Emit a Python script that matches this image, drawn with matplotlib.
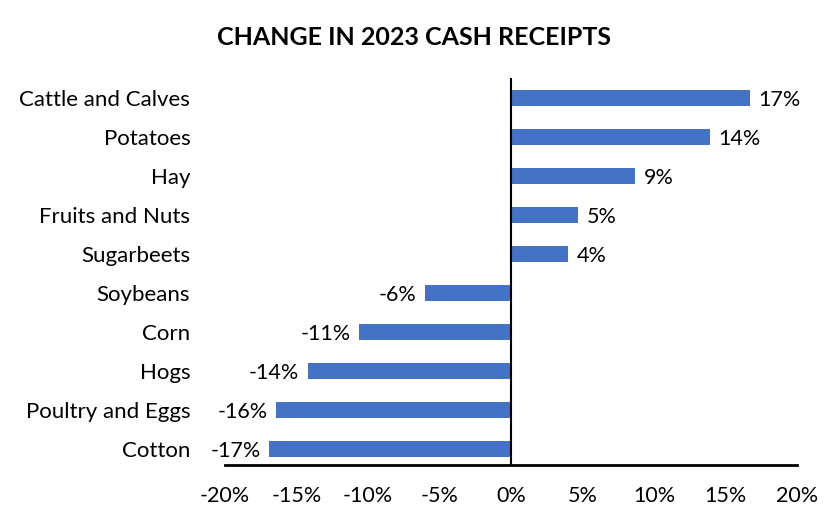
import numpy as np
import matplotlib.pyplot as plt

# Данные
kategooriad = ["Cattle and Calves", "Potatoes", "Hay", "Fruits and Nuts", "Sugarbeets",
               "Soybeans", "Corn", "Hogs", "Poultry and Eggs", "Cotton"]
muutus = [16.7, 13.9, 8.7, 4.7, 4.0, -6.0, -10.6, -14.2, -16.4, -16.9]
x_ticks = [-20, -15, -10, -5, 0, 5, 10, 15, 20]

plt.rcParams['font.family'] = ['Lato', 'DejaVu Sans']

fig = plt.figure(figsize=(8.29, 5.29), dpi=100)
ax = fig.add_axes([0.2714, 0.121, 0.69, 0.7316])

y = np.arange(len(kategooriad))
ax.barh(y, muutus, height=0.41, color='#4472C4')

for yi, v in zip(y, muutus):
    if v >= 0:
        ax.text(v + 0.6, yi + 0.05, f"{round(v):.0f}%", va='center', ha='left', fontsize=15.5)
    else:
        ax.text(v - 0.6, yi + 0.05, f"{round(v):.0f}%", va='center', ha='right', fontsize=15.5)

ax.set_xlim(-20, 20)
ax.set_ylim(9.41, -0.51)
ax.set_xticks(x_ticks)
ax.set_xticklabels([f"{t}%" for t in x_ticks], fontsize=15.5)
ax.set_yticks(y)
ax.set_yticklabels(kategooriad, fontsize=16)
ax.tick_params(axis='both', length=0)
ax.tick_params(axis='y', pad=25)
ax.tick_params(axis='x', pad=15)

ax.axvline(0, color='black', linewidth=1.5)
for s in ['top', 'right', 'left']:
    ax.spines[s].set_visible(False)
ax.spines['bottom'].set_linewidth(2)
ax.spines['bottom'].set_color('black')

fig.text(0.5, 0.93, "CHANGE IN 2023 CASH RECEIPTS", ha='center', va='center',
         fontsize=18, fontweight='bold')

fig.savefig("out.png", dpi=100)
